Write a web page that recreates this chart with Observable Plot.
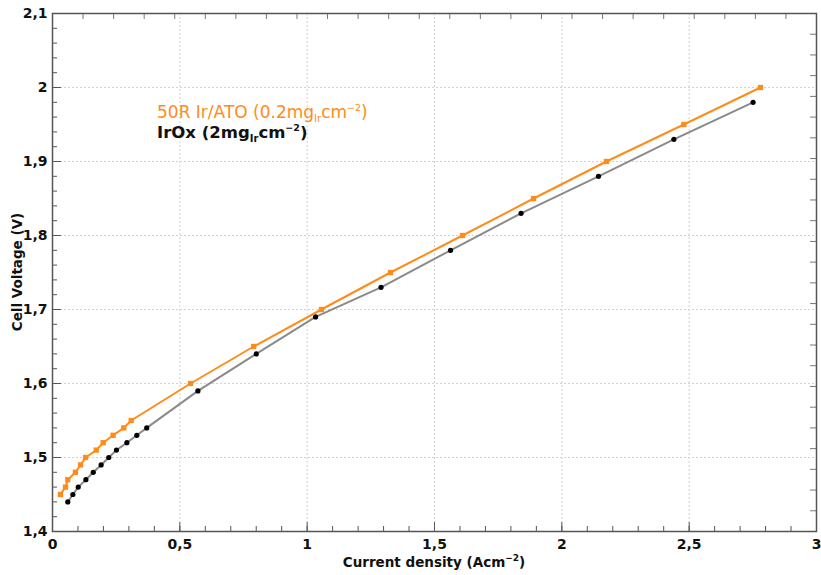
<!DOCTYPE html>
<html><head><meta charset="utf-8">
<script src="https://cdn.jsdelivr.net/npm/d3@7"></script>
<script src="https://cdn.jsdelivr.net/npm/@observablehq/plot@0.6"></script>
<style>body{margin:0;background:#fff;} svg{display:block;}</style>
</head><body><div id="chart"></div>
<script>
// Series: 50R Ir/ATO (orange squares)
const atoX = [0.031,0.051,0.060,0.090,0.110,0.130,0.172,0.199,0.238,0.280,0.309,0.542,0.790,1.056,1.327,1.610,1.889,2.175,2.479,2.780];
const atoY = [1.45,1.46,1.47,1.48,1.49,1.50,1.51,1.52,1.53,1.54,1.55,1.60,1.65,1.70,1.75,1.80,1.85,1.90,1.95,2.00];
// Series: IrOx (black dots, gray line)
const irX = [0.060,0.080,0.101,0.131,0.160,0.191,0.221,0.251,0.292,0.331,0.370,0.571,0.800,1.033,1.290,1.563,1.840,2.144,2.440,2.751];
const irY = [1.44,1.45,1.46,1.47,1.48,1.49,1.50,1.51,1.52,1.53,1.54,1.59,1.64,1.69,1.73,1.78,1.83,1.88,1.93,1.98];
// Axis ticks
const xMajor = [0,0.5,1,1.5,2,2.5,3];
const yMajor = [1.4,1.5,1.6,1.7,1.8,1.9,2.0,2.1];
const xMinor = d3.range(0,31).map(i=>i/10);
const yMinor = d3.range(0,36).map(i=>1.4+i*0.02);
const xTop = d3.range(0,26).map(i=>i*3/25);
const yRight = d3.range(0,26).map(i=>1.4+i*0.7/25);
const legendParts = [
  ["50R Ir/ATO (0.2mg","Ir","cm","−2",")"],
  ["IrOx (2mg","Ir","cm","−2",")"]
];
const orange = "#ff8c1a";

const ato = atoX.map((x,i)=>({x, y: atoY[i]}));
const ir = irX.map((x,i)=>({x, y: irY[i]}));
const W = 821, H = 575, mt = 13, mb = 44, ml = 52, mr = 5;
const pw = W-ml-mr, ph = H-mt-mb;
const fmt = d => String(+d.toFixed(2)).replace(".", ",");

const plot = Plot.plot({
  width: W, height: H,
  marginTop: mt, marginBottom: mb, marginLeft: ml, marginRight: mr,
  style: {fontFamily: "DejaVu Sans, sans-serif", background: "#fff"},
  x: {domain: [0,3]},
  y: {domain: [1.4,2.1]},
  marks: [
    Plot.ruleX(xMajor.slice(1,-1), {stroke: "#d2d2d2", strokeDasharray: "2,2", strokeWidth: 1}),
    Plot.ruleY(yMajor.slice(1,-1), {stroke: "#d2d2d2", strokeDasharray: "2,2", strokeWidth: 1}),
    // inward ticks bottom
    Plot.tickX(xMinor, {x: d=>d, insetTop: ph-5, stroke: "#555"}),
    Plot.tickX(xMajor, {x: d=>d, insetTop: ph-9, stroke: "#555"}),
    // top ticks
    Plot.tickX(xTop, {x: d=>d, insetBottom: ph-6, stroke: "#777"}),
    // left ticks
    Plot.tickY(yMinor, {y: d=>d, insetRight: pw-5, stroke: "#555"}),
    Plot.tickY(yMajor, {y: d=>d, insetRight: pw-9, stroke: "#555"}),
    // right ticks
    Plot.tickY(yRight, {y: d=>d, insetLeft: pw-6, stroke: "#777"}),
    Plot.axisX(xMajor, {tickSize: 0, tickPadding: 8, tickFormat: fmt, fontSize: 14, fontWeight: 600, fill: "#111", label: null}),
    Plot.axisY(yMajor, {tickSize: 0, tickPadding: 5, tickFormat: fmt, fontSize: 14, fontWeight: 600, fill: "#111", label: null}),
    Plot.line(ir, {x: "x", y: "y", stroke: "#8a8a8a", strokeWidth: 2}),
    Plot.dot(ir, {x: "x", y: "y", r: 2.6, fill: "#000"}),
    Plot.line(ato, {x: "x", y: "y", stroke: orange, strokeWidth: 2}),
    Plot.dot(ato, {x: "x", y: "y", symbol: "square", r: 3, fill: orange}),
    Plot.frame({stroke: "#555", strokeWidth: 1.5}),
    Plot.text(legendParts, {text: d => d.join(""), frameAnchor: "top-left", fontSize: 16.5, fill: "#000", textAnchor: "start"})
  ]
});
document.getElementById("chart").appendChild(plot);

const svg = d3.select(plot);
// rebuild legend texts with sub/superscripts
const legendColors = [orange, "#111"];
const legendY = [112, 132];
const legendSize = [17, 16.5];
svg.selectAll("text").filter(function(){ return legendParts.some(p=>p.join("")===this.textContent); }).each(function(){
  const t = d3.select(this);
  d3.select(this.parentNode).attr("transform", null);
  const idx = legendParts.findIndex(p=>p.join("")===this.textContent);
  const parts = legendParts[idx];
  t.text(null).attr("transform", null).attr("x", 157).attr("y", legendY[idx]).attr("dy", "0.35em")
    .attr("fill", legendColors[idx]).attr("font-size", legendSize[idx]).style("font-weight", idx===1?600:400);
  t.append("tspan").text(parts[0]);
  t.append("tspan").text(parts[1]).attr("font-size", "10px").attr("dy", "4");
  t.append("tspan").text(parts[2]).attr("dy", "-4");
  t.append("tspan").text(parts[3]).attr("font-size", "9.5px").attr("dy", "-7");
  t.append("tspan").text(parts[4]).attr("dy", "7");
});
// axis titles
const xt = svg.append("text").attr("x", ml+pw/2).attr("y", 567).attr("text-anchor","middle")
  .attr("font-size", 13.5).attr("font-weight", 600).attr("fill","#111").attr("font-family","DejaVu Sans, sans-serif");
xt.append("tspan").text("Current density (Acm");
xt.append("tspan").text("−2").attr("font-size", "9px").attr("dy", "-6");
xt.append("tspan").text(")").attr("dy", "6");
svg.append("text").attr("transform", `translate(22,${mt+ph/2}) rotate(-90)`).attr("text-anchor","middle")
  .attr("font-size", 13.5).attr("font-weight", 600).attr("fill","#111").attr("font-family","DejaVu Sans, sans-serif")
  .text("Cell Voltage (V)");
</script></body></html>
